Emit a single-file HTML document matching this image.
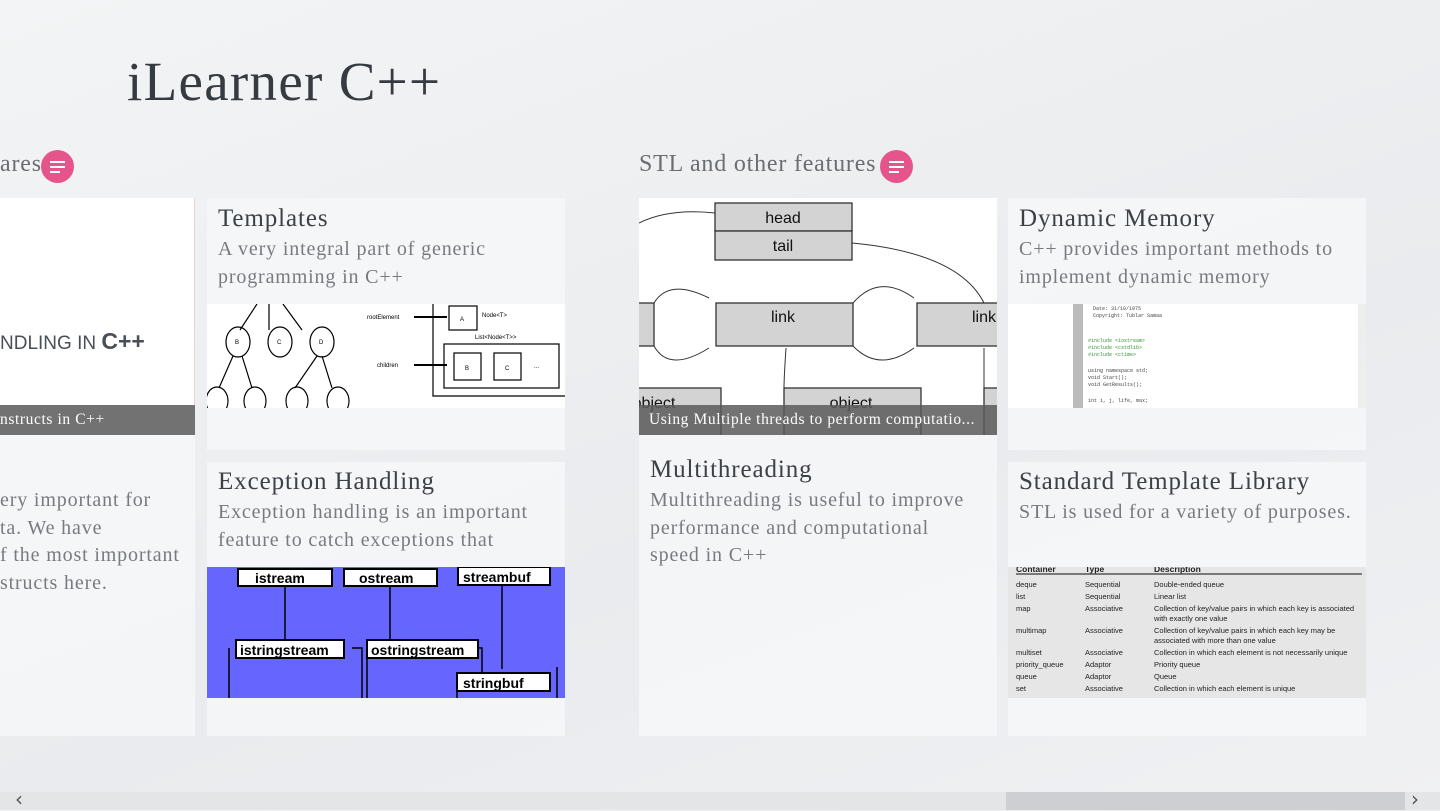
<!DOCTYPE html>
<html><head><meta charset="utf-8"><style>
*{margin:0;padding:0;box-sizing:border-box}
body{width:1440px;height:810px;overflow:hidden;position:relative;font-family:"Liberation Serif",serif;background:linear-gradient(160deg,#f3f4f5 0%,#eceef0 40%,#e9ebee 60%,#f0f1f3 100%)}
.a{position:absolute}
.tile{position:absolute;background:rgba(246,247,248,0.85)}
.t{position:absolute;font-size:25px;letter-spacing:0.9px;color:#3c4147;white-space:nowrap}
.d{position:absolute;font-size:20px;letter-spacing:0.85px;color:#777b80;line-height:27.5px;white-space:nowrap}
.circ{position:absolute;width:33px;height:33px;border-radius:50%;background:#e6548c}
.circ i{position:absolute;left:9px;width:15px;height:2px;background:#fff}
.cap{position:absolute;background:rgba(90,90,90,0.85);color:#fff;font-size:15.5px;letter-spacing:0.6px;line-height:30px;padding-left:10px;white-space:nowrap;overflow:hidden}
</style></head><body>
<div class="a" style="left:127px;top:50px;font-size:55px;letter-spacing:1.3px;color:#363b41">iLearner C++</div>
<div class="a" style="left:0;top:151px;font-size:24px;letter-spacing:0.8px;color:#6a6e73">ares</div>
<div class="circ" style="left:41px;top:150px"><i style="top:11px"></i><i style="top:16px"></i><i style="top:21px;width:10px"></i></div>
<div class="a" style="left:639px;top:151px;font-size:24px;letter-spacing:0.8px;color:#6a6e73">STL and other features</div>
<div class="circ" style="left:880px;top:150px"><i style="top:11px"></i><i style="top:16px"></i><i style="top:21px;width:10px"></i></div>

<!-- left partial tile -->
<div class="tile" style="left:0;top:198px;width:195px;height:538px"></div>
<div class="a" style="left:0;top:198px;width:195px;height:207px;background:#fff;border-right:1px solid #f0d0d0"></div>
<div class="a" style="left:0;top:328px;font-family:'Liberation Sans',sans-serif;font-size:19px;color:#4a4f57;white-space:nowrap">NDLING IN <span style="font-size:23px;font-weight:bold">C++</span></div>
<div class="cap" style="left:0;top:405px;width:195px;padding-left:0">nstructs in C++</div>
<div class="d" style="left:0;top:487px">ery important for<br>ta. We have<br>f the most important<br>structs here.</div>

<!-- Templates -->
<div class="tile" style="left:207px;top:198px;width:358px;height:252px"></div>
<div class="t" style="left:218px;top:205px">Templates</div>
<div class="d" style="left:218px;top:236px">A very integral part of generic<br>programming in C++</div>
<svg class="a" style="left:207px;top:304px" width="358" height="104" viewBox="0 0 358 104">
<rect width="358" height="104" fill="#fff"/>
<g fill="none" stroke="#000" stroke-width="1.2">
<path d="M50 0L33 26M62 0V26M76 0L95 26M26 52L12 84M35 52L45 84M110 52L88 84M115 52L125 84"/>
<ellipse cx="31" cy="38" rx="12" ry="15"/><ellipse cx="73" cy="38" rx="12" ry="15"/><ellipse cx="115" cy="38" rx="12" ry="15"/>
<ellipse cx="10" cy="97" rx="11" ry="14"/><ellipse cx="48" cy="97" rx="11" ry="14"/><ellipse cx="90" cy="97" rx="11" ry="14"/><ellipse cx="131" cy="97" rx="11" ry="14"/>
<path d="M226 0V92H358"/><rect x="242" y="2" width="28" height="24"/><rect x="237" y="40" width="115" height="44"/><rect x="247" y="49" width="27" height="27"/><rect x="287" y="49" width="27" height="27"/>
<path d="M207 13H240M207 61H240" stroke-width="2"/></g>
<g font-family="Liberation Sans" font-size="6" fill="#000"><text x="160" y="15">rootElement</text><text x="170" y="63">children</text><text x="253" y="17">A</text><text x="275" y="13">Node&lt;T&gt;</text><text x="268" y="35">List&lt;Node&lt;T&gt;&gt;</text><text x="258" y="66">B</text><text x="298" y="66">C</text><text x="327" y="64">...</text>
<text x="28" y="40">B</text><text x="70" y="40">C</text><text x="112" y="40">D</text></g>
</svg>

<!-- Exception Handling -->
<div class="tile" style="left:207px;top:462px;width:358px;height:274px"></div>
<div class="t" style="left:218px;top:468px">Exception Handling</div>
<div class="d" style="left:218px;top:499px">Exception handling is an important<br>feature to catch exceptions that</div>
<svg class="a" style="left:207px;top:567px" width="358" height="131" viewBox="0 0 358 131">
<rect width="358" height="131" fill="#6666ff"/>
<g fill="none" stroke="#000" stroke-width="1.5"><path d="M78 19V72M183 19V72M295 19V102M22 81V131M160 81V131M250 115V131M255 81H275V105M145 81H155V131M350 100V131"/></g>
<g fill="#fff" stroke="#000" stroke-width="2"><rect x="31" y="2" width="94" height="17"/><rect x="137" y="2" width="93" height="17"/><rect x="251" y="0" width="92" height="18"/><rect x="29" y="73" width="108" height="18"/><rect x="160" y="73" width="111" height="18"/><rect x="250" y="106" width="93" height="18"/></g>
<g font-family="Liberation Sans" font-weight="bold" font-size="14" fill="#000"><text x="48" y="16">istream</text><text x="152" y="16">ostream</text><text x="256" y="15">streambuf</text><text x="33" y="88">istringstream</text><text x="164" y="88">ostringstream</text><text x="256" y="121">stringbuf</text></g>
</svg>

<!-- Multithreading -->
<div class="tile" style="left:639px;top:198px;width:358px;height:538px"></div>
<svg class="a" style="left:639px;top:198px" width="358" height="237" viewBox="0 0 358 237">
<rect width="358" height="237" fill="#fff"/>
<g stroke="#333" stroke-width="1.3" fill="#d3d3d3"><rect x="76" y="5" width="137" height="28"/><rect x="76" y="33" width="137" height="29"/><rect x="-5" y="105" width="20" height="43"/><rect x="77" y="105" width="137" height="43"/><rect x="278" y="105" width="90" height="43"/><rect x="-5" y="190" width="87" height="50"/><rect x="145" y="190" width="137" height="50"/><rect x="345" y="190" width="20" height="50"/></g>
<g font-family="Liberation Sans" font-size="16" fill="#111" text-anchor="middle"><text x="144" y="25">head</text><text x="144" y="53">tail</text><text x="144" y="124">link</text><text x="345" y="124">link</text><text x="212" y="210">object</text><text x="15" y="210">object</text></g>
<g fill="none" stroke="#333"><path d="M0 25Q30 10 76 15M213 45Q320 55 345 105M15 105Q30 80 70 100M15 148Q30 175 70 150M214 105Q240 75 275 100M214 148Q240 175 275 150M147 150Q145 180 145 190M345 150Q345 170 345 190"/></g>
</svg>
<div class="cap" style="left:639px;top:405px;width:358px">Using Multiple threads to perform computatio...</div>
<div class="t" style="left:650px;top:456px">Multithreading</div>
<div class="d" style="left:650px;top:487px">Multithreading is useful to improve<br>performance and computational<br>speed in C++</div>

<!-- Dynamic Memory -->
<div class="tile" style="left:1008px;top:198px;width:358px;height:252px"></div>
<div class="t" style="left:1019px;top:205px">Dynamic Memory</div>
<div class="d" style="left:1019px;top:236px">C++ provides important methods to<br>implement dynamic memory</div>
<svg class="a" style="left:1008px;top:304px" width="358" height="104" viewBox="0 0 358 104">
<rect width="358" height="104" fill="#fff"/><rect x="65" y="0" width="10" height="104" fill="#bbb"/><rect x="350" y="0" width="8" height="104" fill="#eee"/>
<g font-family="Liberation Mono" font-size="5" fill="#444"><text x="85" y="6">Date: 31/10/1975</text><text x="85" y="13">Copyright: Tublar Samaa</text><text x="80" y="38" fill="#393">#include &lt;iostream&gt;</text><text x="80" y="45" fill="#393">#include &lt;cstdlib&gt;</text><text x="80" y="52" fill="#393">#include &lt;ctime&gt;</text><text x="80" y="68">using namespace std;</text><text x="80" y="75">void Start();</text><text x="80" y="82">void GetResults();</text><text x="80" y="98">int i, j, life, max;</text></g>
</svg>

<!-- STL -->
<div class="tile" style="left:1008px;top:462px;width:358px;height:274px"></div>
<div class="t" style="left:1019px;top:468px">Standard Template Library</div>
<div class="d" style="left:1019px;top:499px">STL is used for a variety of purposes.</div>
<svg class="a" style="left:1008px;top:567px" width="358" height="131" viewBox="0 0 358 131">
<rect width="358" height="131" fill="#e6e6e6"/><path d="M8 7H354" stroke="#555" stroke-width="1.5"/>
<g font-family="Liberation Sans" font-size="7.5" fill="#222"><text x="8" y="5" font-weight="bold" font-size="8.5">Container</text><text x="77" y="5" font-weight="bold" font-size="8.5">Type</text><text x="146" y="5" font-weight="bold" font-size="8.5">Description</text>
<text x="8" y="20">deque</text><text x="77" y="20">Sequential</text><text x="146" y="20">Double-ended queue</text>
<text x="8" y="32">list</text><text x="77" y="32">Sequential</text><text x="146" y="32">Linear list</text>
<text x="8" y="44">map</text><text x="77" y="44">Associative</text><text x="146" y="44">Collection of key/value pairs in which each key is associated</text><text x="146" y="54">with exactly one value</text>
<text x="8" y="66">multimap</text><text x="77" y="66">Associative</text><text x="146" y="66">Collection of key/value pairs in which each key may be</text><text x="146" y="76">associated with more than one value</text>
<text x="8" y="88">multiset</text><text x="77" y="88">Associative</text><text x="146" y="88">Collection in which each element is not necessarily unique</text>
<text x="8" y="100">priority_queue</text><text x="77" y="100">Adaptor</text><text x="146" y="100">Priority queue</text>
<text x="8" y="112">queue</text><text x="77" y="112">Adaptor</text><text x="146" y="112">Queue</text>
<text x="8" y="124">set</text><text x="77" y="124">Associative</text><text x="146" y="124">Collection in which each element is unique</text></g>
</svg>

<!-- scrollbar -->
<div class="a" style="left:0;top:792px;width:1440px;height:18px;background:#e4e5e7"></div>
<div class="a" style="left:1006px;top:792px;width:399px;height:18px;background:#cdcfd2"></div>
<div class="a" style="left:15px;top:787px;font-size:20px;color:#555;font-family:'DejaVu Sans',sans-serif">‹</div>
<div class="a" style="left:1411px;top:787px;font-size:20px;color:#555;font-family:'DejaVu Sans',sans-serif">›</div>
</body></html>
